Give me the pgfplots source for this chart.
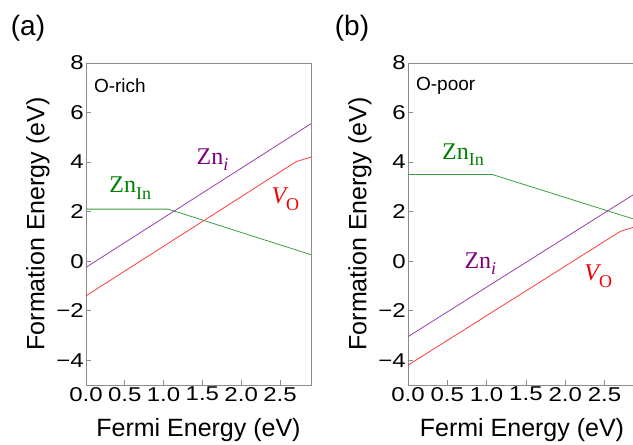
\documentclass[border=0pt]{standalone}
\usepackage{fontspec}
\setmainfont{Liberation Sans}
\newfontfamily\lblfont{Liberation Serif}
\usepackage{graphicx}
\usepackage{pgfplots}
\pgfplotsset{compat=1.18}

\definecolor{zni}{RGB}{155,60,175}
\definecolor{znitxt}{RGB}{128,0,128}
\definecolor{vo}{RGB}{255,60,60}
\definecolor{votxt}{RGB}{240,0,0}
\definecolor{znin}{RGB}{60,160,60}
\definecolor{znintxt}{RGB}{0,128,0}
\definecolor{frame}{RGB}{140,140,140}

% reference tick digits are set wide
\newcommand\tk[1]{\scalebox{1.2}[1]{#1}}
\newcommand\sub[1]{\raisebox{-0.28em}{\fontsize{18}{20}\selectfont #1}}

\tikzset{deflabel/.style={font=\lblfont\fontsize{24}{26}\selectfont}}

\pgfplotsset{
  defectplot/.style={
    scale only axis, width=225pt, height=322pt,
    xmin=0, xmax=2.9, ymin=-5, ymax=8,
    axis line style={frame, line width=0.6pt},
    tick style={frame, line width=0.6pt},
    tick align=inside, major tick length=5pt,
    xtick pos=bottom, ytick pos=left,
    xtick={0,0.5,1,1.5,2,2.5},
    xticklabels={\tk{0.0},\tk{0.5},\tk{1.0},\tk{1.5},\tk{2.0},\tk{2.5}},
    ytick={-4,-2,0,2,4,6,8},
    yticklabels={\tk{−4},\tk{−2},\tk{0},\tk{2},\tk{4},\tk{6},\tk{8}},
    ticklabel style={font=\fontsize{20}{22}\selectfont},
    xticklabel style={inner sep=1pt, yshift=-1pt},
    yticklabel style={inner sep=2pt},
    xlabel={Fermi Energy (eV)},
    ylabel={Formation Energy (eV)},
    label style={font=\fontsize{25}{27}\selectfont},
    xlabel style={at={(axis description cs:0.5,0)}, anchor=center, yshift=-45pt},
    ylabel style={at={(axis description cs:0,0.5)}, anchor=center, yshift=48pt},
    every axis plot/.append style={line width=0.8pt, no marks},
  },
}

\begin{document}
\begin{tikzpicture}
\useasboundingbox (0,0) rectangle (633pt,445pt);
\clip (0,0) rectangle (633pt,445pt);

\node[font=\fontsize{28}{30}\selectfont] at (28pt,417pt) {(a)};
\node[font=\fontsize{28}{30}\selectfont] at (352pt,417pt) {(b)};

% (a) O-rich
\begin{axis}[defectplot, at={(86pt,60pt)}, anchor=south west]
\addplot[znin] coordinates {(0,2.1) (1.06,2.1) (2.9,0.26)};
\addplot[zni] coordinates {(0,-0.25) (2.9,5.55)};
\addplot[vo] coordinates {(0,-1.4) (2.71,4.02) (2.9,4.2)};
\node[anchor=west, font=\fontsize{19}{21}\selectfont] at (axis description cs:0.02,0.93) {O-rich};
\node[deflabel, text=znintxt] at (axis cs:0.57,2.95) {Zn\sub{In}};
\node[deflabel, text=znitxt] at (axis cs:1.63,4.1) {Zn\sub{\itshape i}};
\node[deflabel, text=votxt] at (axis cs:2.57,2.5) {\itshape V\sub{\upshape O}};
\end{axis}

% (b) O-poor
\begin{axis}[defectplot, at={(408pt,60pt)}, anchor=south west, width=228pt]
\addplot[znin] coordinates {(0,3.5) (1.07,3.5) (2.9,1.67)};
\addplot[zni] coordinates {(0,-3.05) (2.9,2.75)};
\addplot[vo] coordinates {(0,-4.2) (2.7,1.2) (2.9,1.4)};
\node[anchor=west, font=\fontsize{19}{21}\selectfont] at (axis description cs:0.02,0.93) {O-poor};
\node[deflabel, text=znintxt] at (axis cs:0.7,4.3) {Zn\sub{In}};
\node[deflabel, text=znitxt] at (axis cs:0.92,-0.1) {Zn\sub{\itshape i}};
\node[deflabel, text=votxt] at (axis cs:2.42,-0.6) {\itshape V\sub{\upshape O}};
\end{axis}
\end{tikzpicture}
\end{document}
